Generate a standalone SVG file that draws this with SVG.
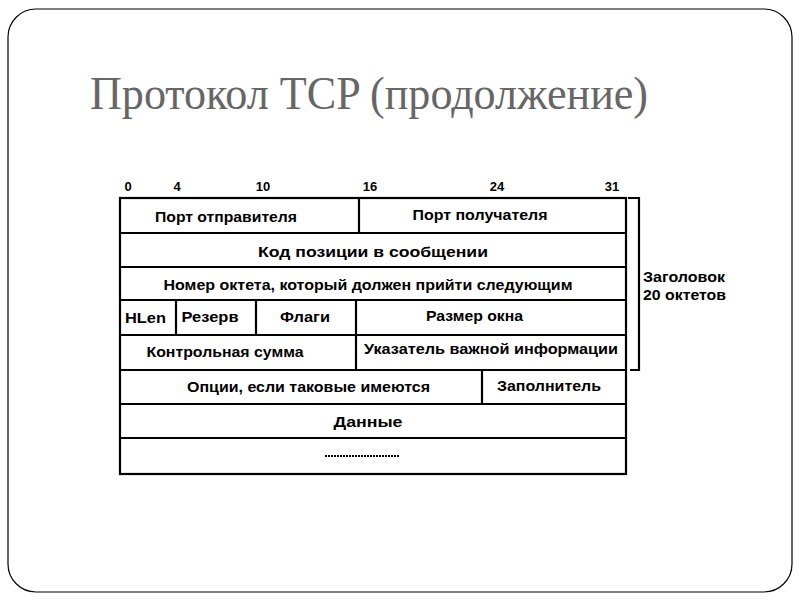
<svg xmlns="http://www.w3.org/2000/svg" width="800" height="600" viewBox="0 0 800 600">
<style>
.t{font-family:"Liberation Sans",Arial,sans-serif;font-weight:bold;font-size:14.5px;fill:#000;text-anchor:middle}
.n{font-family:"Liberation Sans",Arial,sans-serif;font-weight:bold;font-size:13px;fill:#000;text-anchor:middle}
.ln{stroke:#000;stroke-width:2.2;fill:none}
.title{font-family:"Liberation Serif","Times New Roman",serif;font-size:46px;fill:#666}
</style>
<rect x="0" y="0" width="800" height="600" fill="#fff"/>
<rect x="8" y="9" width="784" height="583" rx="28" ry="28" fill="none" stroke="#000" stroke-width="1.2"/>
<text class="title" x="90" y="109" textLength="558" lengthAdjust="spacingAndGlyphs">Протокол TCP (продолжение)</text>

<g id="bits">
<text class="n" x="128" y="191">0</text>
<text class="n" x="177" y="191">4</text>
<text class="n" x="263" y="191">10</text>
<text class="n" x="370" y="191">16</text>
<text class="n" x="497" y="191">24</text>
<text class="n" x="612" y="191">31</text>
</g>

<g id="table">
<rect x="120" y="198" width="506" height="276" class="ln" stroke-width="2.6"/>
<line class="ln" x1="120" y1="233" x2="626" y2="233"/>
<line class="ln" x1="120" y1="267" x2="626" y2="267"/>
<line class="ln" x1="120" y1="300" x2="626" y2="300"/>
<line class="ln" x1="120" y1="335" x2="626" y2="335"/>
<line class="ln" x1="120" y1="370" x2="626" y2="370"/>
<line class="ln" x1="120" y1="404" x2="626" y2="404"/>
<line class="ln" x1="120" y1="438" x2="626" y2="438"/>
<line class="ln" x1="359" y1="198" x2="359" y2="233"/>
<line class="ln" x1="176" y1="300" x2="176" y2="335"/>
<line class="ln" x1="256" y1="300" x2="256" y2="335"/>
<line class="ln" x1="356" y1="300" x2="356" y2="370"/>
<line class="ln" x1="482" y1="370" x2="482" y2="404" stroke-width="1.5"/>
</g>

<g id="cells">
<text class="t" x="226" y="222" textLength="142" lengthAdjust="spacingAndGlyphs">Порт отправителя</text>
<text class="t" x="480" y="220" textLength="135" lengthAdjust="spacingAndGlyphs">Порт получателя</text>
<text class="t" x="373" y="257" textLength="230" lengthAdjust="spacingAndGlyphs">Код позиции в сообщении</text>
<text class="t" x="368" y="290" textLength="409" lengthAdjust="spacingAndGlyphs">Номер октета, который должен прийти следующим</text>
<text class="t" x="145.5" y="323" textLength="41" lengthAdjust="spacingAndGlyphs">HLen</text>
<text class="t" x="210" y="322" textLength="57" lengthAdjust="spacingAndGlyphs">Резерв</text>
<text class="t" x="305" y="322" textLength="50" lengthAdjust="spacingAndGlyphs">Флаги</text>
<text class="t" x="474.5" y="321" textLength="97" lengthAdjust="spacingAndGlyphs">Размер окна</text>
<text class="t" x="225" y="357" textLength="157" lengthAdjust="spacingAndGlyphs">Контрольная сумма</text>
<text class="t" x="491" y="354" textLength="254" lengthAdjust="spacingAndGlyphs">Указатель важной информации</text>
<text class="t" x="308.5" y="392" textLength="243" lengthAdjust="spacingAndGlyphs">Опции, если таковые имеются</text>
<text class="t" x="549" y="391" textLength="104" lengthAdjust="spacingAndGlyphs">Заполнитель</text>
<text class="t" x="368" y="427" textLength="69" lengthAdjust="spacingAndGlyphs">Данные</text>
<line x1="325" y1="456" x2="399" y2="456" stroke="#000" stroke-width="2" stroke-dasharray="2 1"/>
</g>

<g id="bracket">
<polyline class="ln" points="628,198 639,198 639,370 630,370"/>
<text class="t" x="643" y="282" style="text-anchor:start" textLength="82" lengthAdjust="spacingAndGlyphs">Заголовок</text>
<text class="t" x="643" y="300" style="text-anchor:start" textLength="83" lengthAdjust="spacingAndGlyphs">20 октетов</text>
</g>
</svg>
